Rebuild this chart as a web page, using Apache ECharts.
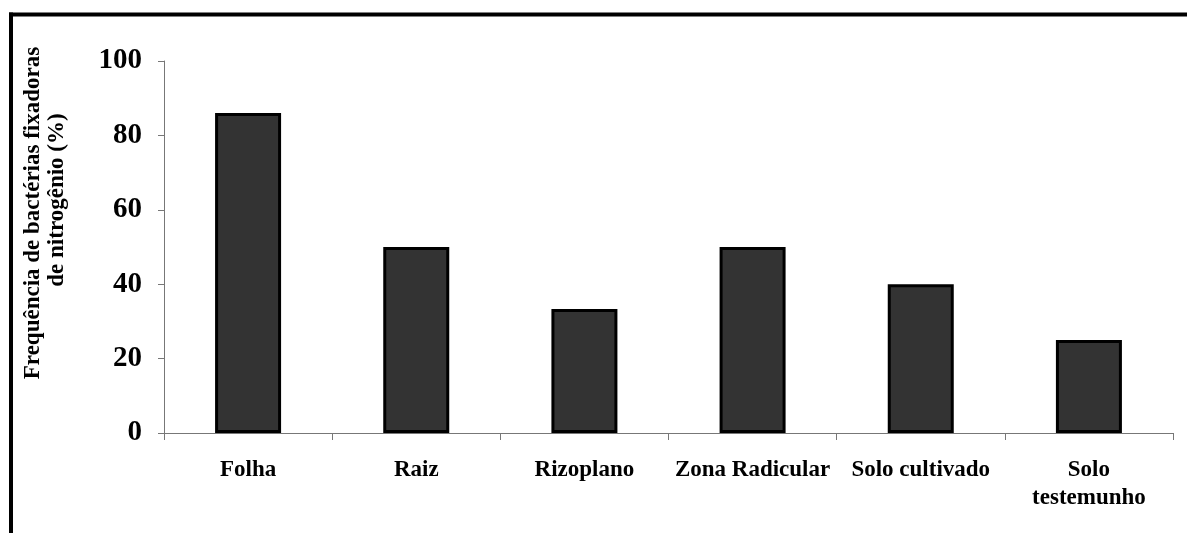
<!DOCTYPE html>
<html>
<head>
<meta charset="utf-8">
<script src="https://cdn.jsdelivr.net/npm/echarts@6/dist/echarts.min.js"></script>
<style>
html,body{margin:0;padding:0;background:#fff;}
#chart{width:1187px;height:533px;}
</style>
</head>
<body>
<div id="chart"></div>
<script>
var categories = ['Folha', 'Raiz', 'Rizoplano', 'Zona Radicular', 'Solo cultivado', 'Solo\ntestemunho'];
var values = [86, 50, 33.3, 50, 40, 25];
var yTicks = [0, 20, 40, 60, 80, 100];
var yTitleLine1 = 'Frequência de bactérias fixadoras';
var yTitleLine2 = 'de nitrogênio (%)';

var font = '"Liberation Serif", "Times New Roman", serif';
var chart = echarts.init(document.getElementById('chart'), null, {renderer: 'canvas'});
chart.setOption({
  animation: false,
  backgroundColor: '#fff',
  grid: {left: 164, right: 14, top: 61, bottom: 100, containLabel: false},
  xAxis: {
    type: 'category',
    data: categories,
    axisLine: {lineStyle: {color: '#777', width: 1}},
    axisTick: {show: true, length: 7, alignWithLabel: false, lineStyle: {color: '#777'}},
    axisLabel: {
      interval: 0, margin: 23,
      fontFamily: font, fontWeight: 'bold', fontSize: 23, color: '#000', lineHeight: 28
    }
  },
  yAxis: {
    type: 'value',
    min: yTicks[0], max: yTicks[yTicks.length - 1], interval: 20,
    splitLine: {show: false},
    axisLine: {show: true, lineStyle: {color: '#777', width: 1}},
    axisTick: {show: true, length: 6, lineStyle: {color: '#777'}},
    axisLabel: {
      margin: 22, fontFamily: font, fontWeight: 'bold', fontSize: 29, color: '#000'
    }
  },
  series: [{
    type: 'bar',
    data: values,
    barWidth: 66,
    itemStyle: {color: '#333333', borderColor: '#000', borderWidth: 3}
  }],
  graphic: [
    {type: 'line', shape: {x1: 9, y1: 14.5, x2: 1187, y2: 14.5}, style: {stroke: '#000', lineWidth: 4}},
    {type: 'line', shape: {x1: 11, y1: 12.5, x2: 11, y2: 533}, style: {stroke: '#000', lineWidth: 4}},
    {type: 'text', x: 33, y: 213, rotation: Math.PI / 2,
     style: {text: yTitleLine1, font: 'bold 23px ' + font, fill: '#000', textAlign: 'center', textVerticalAlign: 'middle'}},
    {type: 'text', x: 57, y: 200, rotation: Math.PI / 2,
     style: {text: yTitleLine2, font: 'bold 23px ' + font, fill: '#000', textAlign: 'center', textVerticalAlign: 'middle'}}
  ]
});
</script>
</body>
</html>
